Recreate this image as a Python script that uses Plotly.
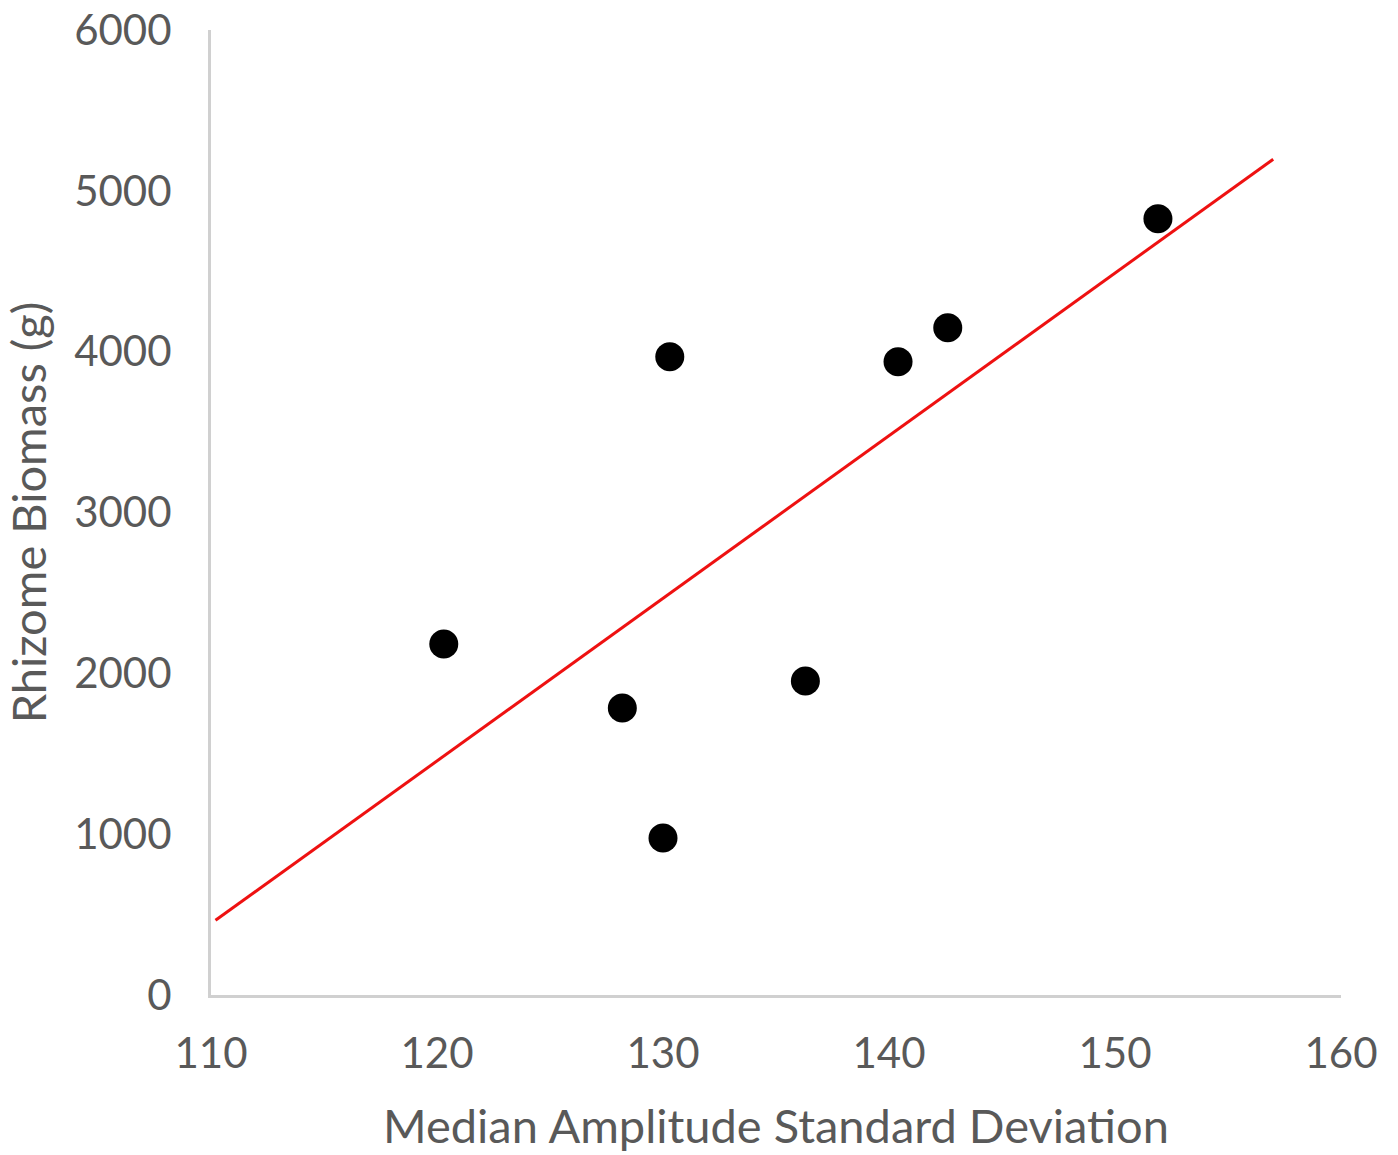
import numpy as np
import plotly.graph_objects as go

amplitude_sd = [120.3, 128.2, 130.0, 130.3, 136.3, 140.4, 142.6, 151.9]
rhizome_biomass = [2183, 1785, 976, 3968, 1953, 3937, 4148, 4826]
trend_x_extent = [110.2, 157.0]

x_ticks = [110, 120, 130, 140, 150, 160]
y_ticks = [0, 1000, 2000, 3000, 4000, 5000, 6000]

slope, intercept = np.polyfit(amplitude_sd, rhizome_biomass, 1)
trend_y = [slope * v + intercept for v in trend_x_extent]

fig = go.Figure()
fig.add_trace(go.Scatter(
    x=trend_x_extent, y=trend_y, mode="lines",
    line=dict(color="#ee1111", width=3), showlegend=False, hoverinfo="skip"))
fig.add_trace(go.Scatter(
    x=amplitude_sd, y=rhizome_biomass, mode="markers",
    marker=dict(color="black", size=29), showlegend=False))

font_family = "Lato, 'Open Sans', sans-serif"
fig.update_layout(
    width=1398, height=1155,
    paper_bgcolor="white", plot_bgcolor="white",
    margin=dict(l=211, r=57, t=30, b=160),
    font=dict(family=font_family, color="#595959", size=40),
)
fig.update_xaxes(
    range=[110, 160], tickvals=x_ticks, showgrid=False, zeroline=False,
    showline=True, linecolor="#d0d0d0", linewidth=3, ticks="",
    automargin=False, ticklabeloverflow="allow",
    ticklabelstandoff=20, tickfont=dict(size=42, color="#595959"),
    title=dict(text="Median Amplitude Standard Deviation",
               font=dict(size=47, color="#595959"), standoff=34),
)
fig.update_yaxes(
    range=[0, 6000], tickvals=y_ticks, showgrid=False, zeroline=False,
    showline=True, linecolor="#d0d0d0", linewidth=3, ticks="",
    automargin=False, ticklabeloverflow="allow",
    ticklabelstandoff=28, tickfont=dict(size=42, color="#595959"),
    title=dict(text="Rhizome Biomass (g)",
               font=dict(size=47, color="#595959"), standoff=20),
)
fig.write_html("out.html", config={"displayModeBar": False},
               post_script="document.body.style.margin='0';document.body.style.overflow='hidden';")
